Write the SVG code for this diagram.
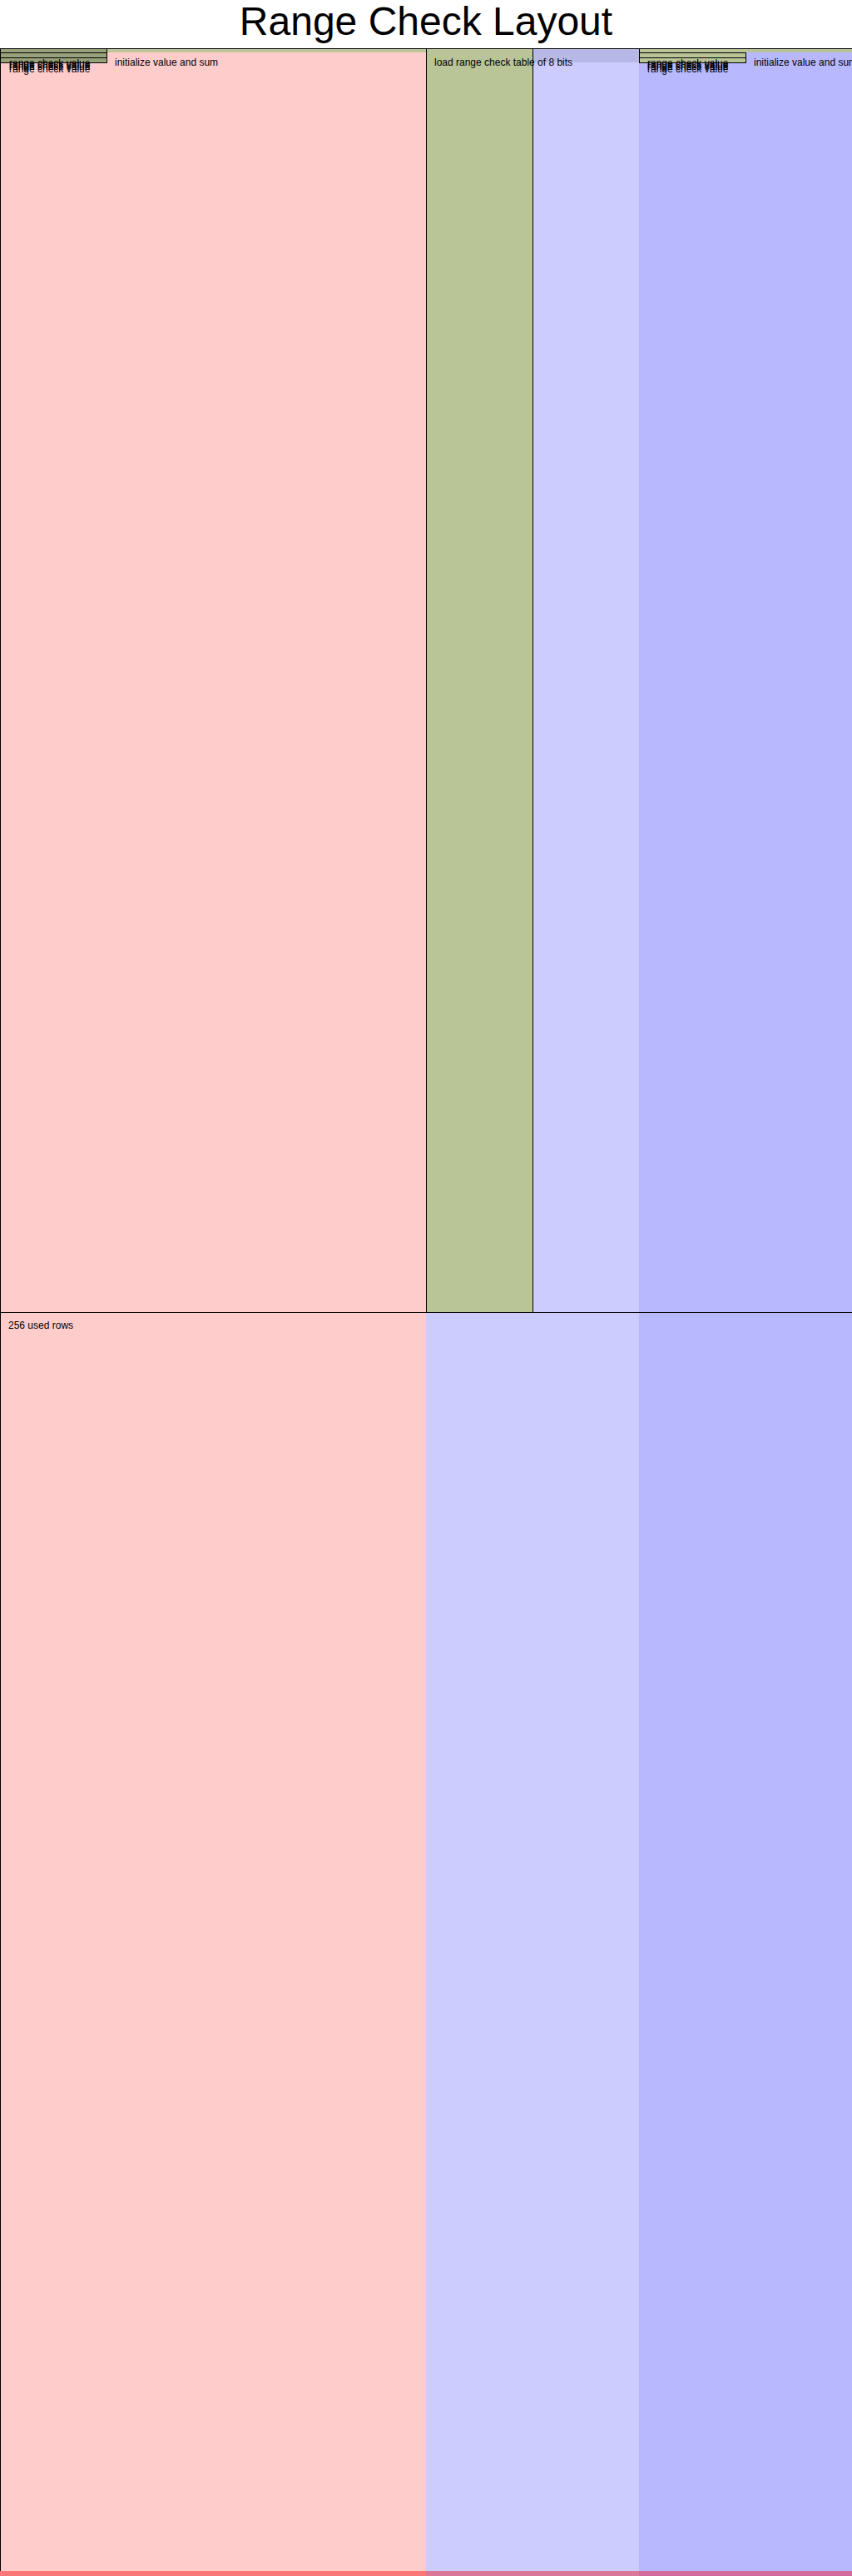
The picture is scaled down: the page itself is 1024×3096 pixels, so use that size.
<svg xmlns="http://www.w3.org/2000/svg" width="1024" height="3096" viewBox="0 0 1024 3096">
<style>
text{font-family:"Liberation Sans",Arial,sans-serif;fill:#000}
.lbl{font-size:12px}
.ln{stroke:#000;stroke-width:1}
.rg{fill:#b9c497}
</style>
<rect width="1024" height="3096" fill="#ffffff"/>
<text x="512" y="42" font-size="48" text-anchor="middle">Range Check Layout</text>
<g id="columns">
<rect x="0" y="58" width="512" height="3038" fill="#ffcccc"/>
<rect x="512" y="58" width="256" height="3038" fill="#ccccff"/>
<rect x="768" y="58" width="256" height="3038" fill="#b8b8ff"/>
<rect x="0" y="3090" width="512" height="6" fill="#ff7777"/>
<rect x="512" y="3090" width="256" height="6" fill="#dd7799"/>
<rect x="768" y="3090" width="256" height="6" fill="#d46a9c"/>
</g>
<g id="table-region">
<rect x="512" y="58" width="128" height="1519" class="rg"/>
<rect x="640" y="58" width="128" height="17" fill="#b8b8e6"/>
<line x1="512.5" y1="58" x2="512.5" y2="1577" class="ln"/>
<line x1="640.5" y1="58" x2="640.5" y2="1577" class="ln"/>
<text x="522" y="79" class="lbl">load range check table of 8 bits</text>
</g>
<g id="init-left">
<rect x="128" y="58" width="384" height="5" fill="#bdc69a"/>
<text x="138" y="79" class="lbl">initialize value and sum</text>
</g>
<g id="range-check-left">
<rect x="0" y="58" width="128" height="17" fill="#98a27a"/>
<line x1="0" y1="63.5" x2="128" y2="63.5" class="ln"/>
<line x1="0" y1="69.5" x2="128" y2="69.5" class="ln"/>
<line x1="0" y1="75.5" x2="128" y2="75.5" class="ln"/>
<line x1="128.5" y1="58" x2="128.5" y2="76" class="ln"/>
<text x="11" y="79.5" class="lbl">range check value</text>
<text x="11" y="81.5" class="lbl">range check value</text>
<text x="11" y="84" class="lbl">range check value</text>
<text x="11" y="87" class="lbl">range check value</text>
</g>
<g id="range-check-right">
<rect x="768" y="58" width="128" height="17" class="rg"/>
<line x1="768" y1="63.5" x2="896" y2="63.5" class="ln"/>
<line x1="768" y1="69.5" x2="896" y2="69.5" class="ln"/>
<line x1="768" y1="75.5" x2="896" y2="75.5" class="ln"/>
<line x1="768.5" y1="58" x2="768.5" y2="76" class="ln"/>
<line x1="896.5" y1="58" x2="896.5" y2="76" class="ln"/>
<text x="778" y="79.5" class="lbl">range check value</text>
<text x="778" y="81.5" class="lbl">range check value</text>
<text x="778" y="84" class="lbl">range check value</text>
<text x="778" y="87" class="lbl">range check value</text>
</g>
<g id="init-right">
<rect x="896" y="58" width="128" height="5" fill="#b9c29a"/>
<text x="906" y="79" class="lbl">initialize value and sum</text>
</g>
<g id="connectors">
<line x1="0" y1="58.5" x2="1024" y2="58.5" class="ln"/>
<line x1="0.5" y1="58" x2="0.5" y2="3090" class="ln"/>
<line x1="0" y1="1577.5" x2="1024" y2="1577.5" class="ln"/>
</g>
<g id="used-rows">
<text x="10" y="1597" class="lbl">256 used rows</text>
</g>
</svg>
